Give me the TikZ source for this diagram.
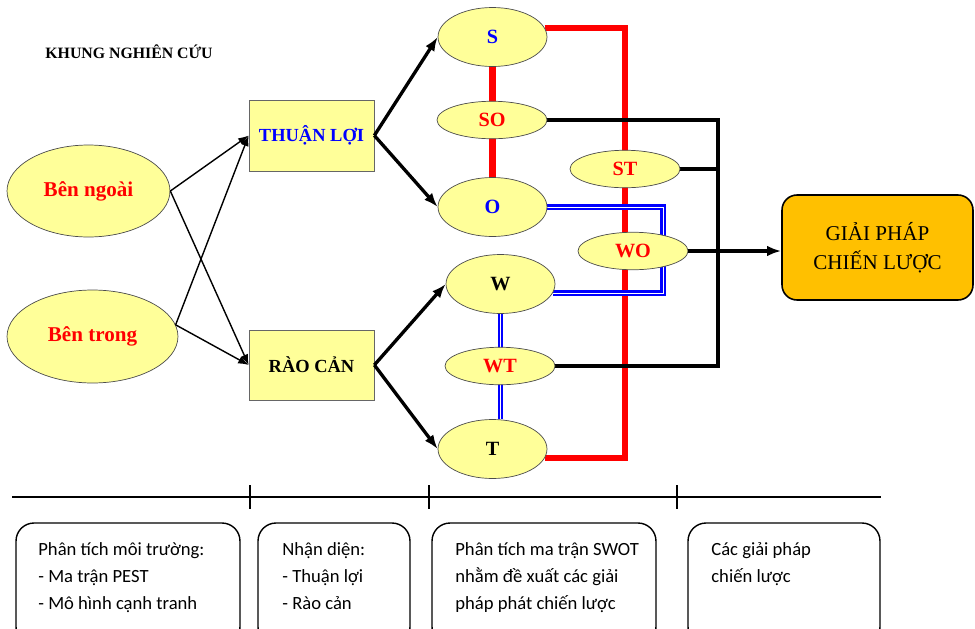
\documentclass[tikz,border=0pt]{standalone}
\usepackage{fontspec}
\setmainfont{Liberation Serif}
\newfontfamily\calfont{Carlito}
\usetikzlibrary{shapes.geometric,arrows.meta,backgrounds}
\definecolor{pale}{HTML}{FFFF99}
\definecolor{gold}{HTML}{FFC000}

\begin{document}
\begin{tikzpicture}[x=0.02cm,y=-0.02cm,
  oval/.style={ellipse,draw=black!70,fill=pale,inner sep=0pt,font=\bfseries\fontsize{11.5}{12}\selectfont},
  bigoval/.style={oval,minimum width=2.18cm,minimum height=1.18cm},
  smalloval/.style={oval,minimum width=2.2cm,minimum height=0.75cm,text=red},
  sideoval/.style={oval,minimum width=3.26cm,minimum height=1.84cm,text=red,font=\bfseries\fontsize{12}{14}\selectfont},
  yellowbox/.style={draw=black!60,fill=pale,minimum width=2.5cm,minimum height=1.42cm,font=\bfseries\fontsize{10.5}{12}\selectfont},
  thinarrow/.style={-{Latex[length=6pt,width=4.5pt]},line width=0.8pt},
  fatarrow/.style={-{Latex[length=8pt,width=6pt]},line width=1.9pt},
  redline/.style={red,line width=3.6pt},
  blueline/.style={blue,double=white,line width=1.4pt,double distance=0.45pt},
  blackline/.style={line width=2pt},
  infobox/.style={draw,rounded corners=0.36cm,line width=0.8pt,minimum width=4.48cm,minimum height=2.44cm},
  infotext/.style={anchor=north west,inner sep=0pt,align=left,font=\calfont\fontsize{10.6}{15.3}\selectfont}]
\useasboundingbox (0,0) rectangle (975,629);

\node[font=\bfseries\fontsize{9}{10}\selectfont] (title) at (129,52) {KHUNG NGHIÊN CỨU};

\node[sideoval] (ngoai) at (88.5,191) {Bên ngoài};
\node[sideoval,minimum width=3.42cm,minimum height=1.86cm] (trong) at (92.5,336.5) {Bên trong};
\node[yellowbox,text=blue] (thuanloi) at (311.5,135.5) {THUẬN LỢI};
\node[yellowbox,minimum height=1.4cm] (raocan) at (311.5,365) {RÀO CẢN};

\node[bigoval,text=blue] (S) at (492.5,37) {S};
\node[smalloval] (SO) at (492,120) {SO};
\node[bigoval,text=blue] (O) at (492.5,207) {O};
\node[smalloval] (ST) at (625,169) {ST};
\node[smalloval] (WO) at (633,251) {WO};
\node[bigoval] (W) at (500.5,284) {W};
\node[smalloval] (WT) at (500,366) {WT};
\node[bigoval] (T) at (492.5,449) {T};

\node[draw,fill=gold,rounded corners=0.3cm,line width=0.9pt,minimum width=3.82cm,minimum height=2.1cm,align=center,font=\fontsize{12}{16.4}\selectfont] (giaiphap) at (877.5,247.5) {GIẢI PHÁP\\CHIẾN LƯỢC};

\begin{scope}[on background layer]
\coordinate (redrail) at (625,0);
\coordinate (bluerail) at (663,0);
\coordinate (blackrail) at (718,0);
\draw[redline] (S.10) -| (redrail |- T.-10) -- (T.-10);
\draw[redline] (S.south) -- (O.north);
\draw[blueline] (O.east) -| (bluerail |- W.-10) -- (W.-10);
\draw[blueline] (W.south) -- (W.south |- T.north);
\draw[blackline] (SO.east) -| (blackrail |- WT.east) -- (WT.east);
\draw[blackline] (ST.east) -- (ST.east -| blackrail);
\end{scope}

\draw[thinarrow] (ngoai.east) -- (thuanloi.west);
\draw[thinarrow] (ngoai.east) -- (raocan.west);
\draw[thinarrow] (trong.8) -- (thuanloi.west);
\draw[thinarrow] (trong.8) -- (raocan.west);
\draw[fatarrow] (thuanloi.east) -- (S.west);
\draw[fatarrow] (thuanloi.east) -- (O.west);
\draw[fatarrow] (raocan.east) -- (W.west);
\draw[fatarrow] (raocan.east) -- (T.west);
\draw[fatarrow] (WO.east) -- (WO.east -| giaiphap.west);

\draw[line width=1.1pt] (12,497) -- (881,497);
\foreach \x in {250,429,677}
  \draw[line width=1.1pt] (\x,485) -- (\x,509);

\node[infobox] (hop1) at (128,584) {};
\node[infobox,minimum width=3.04cm] (hop2) at (334,584) {};
\node[infobox] (hop3) at (544,584) {};
\node[infobox,minimum width=3.84cm] (hop4) at (784,584) {};
\node[infotext] (chu1) at (38,542) {Phân tích môi trường:\\- Ma trận PEST\\- Mô hình cạnh tranh};
\node[infotext] (chu2) at (282,542) {Nhận diện:\\- Thuận lợi\\- Rào cản};
\node[infotext] (chu3) at (455,542) {Phân tích ma trận SWOT\\nhằm đề xuất các giải\\pháp phát chiến lược};
\node[infotext] (chu4) at (711,542) {Các giải pháp\\chiến lược};
\end{tikzpicture}
\end{document}
